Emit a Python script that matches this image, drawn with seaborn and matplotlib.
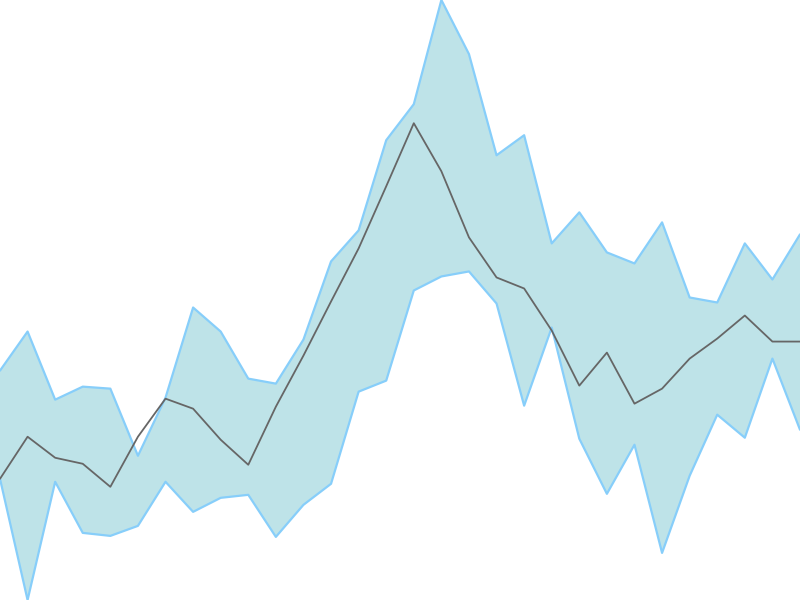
import matplotlib
matplotlib.use("Agg")
import matplotlib.pyplot as plt
import numpy as np
import pandas as pd
import seaborn as sns

# values (30 steps)
steps = list(range(30))
upper = [230, 269, 201, 214, 212, 145, 203, 293, 269, 222, 217, 261, 339, 370, 460,
         496, 600, 546, 445, 465, 357, 388, 348, 337, 378, 303, 298, 357, 321, 366]
center = [122, 164, 143, 137, 114, 164, 202, 192, 161, 136, 194, 245, 299, 352, 414,
          477, 429, 363, 323, 312, 270, 215, 248, 197, 212, 242, 262, 285, 259, 259]
lower = [122, 1, 119, 68, 65, 75, 119, 89, 103, 106, 64, 96, 117, 209, 220,
         310, 324, 329, 297, 195, 273, 162, 107, 156, 48, 125, 186, 163, 242, 171]

df = pd.DataFrame({"step": steps, "upper": upper, "center": center, "lower": lower})

sns.set_style("white")
fig = plt.figure(figsize=(8, 6), dpi=100)
ax = fig.add_axes([0, 0, 1, 1])

ax.fill_between(df["step"], df["lower"], df["upper"], color="#bee3e8", lw=0)
sns.lineplot(data=df, x="step", y="upper", ax=ax, color="#87cefa", lw=1.6)
sns.lineplot(data=df, x="step", y="lower", ax=ax, color="#87cefa", lw=1.6)
sns.lineplot(data=df, x="step", y="center", ax=ax, color="#666666", lw=1.3)

ax.set_xlim(min(steps), max(steps))
ax.set_ylim(min(lower), max(upper))
ax.set_axis_off()

fig.savefig("out.png", dpi=100)
plt.close(fig)
